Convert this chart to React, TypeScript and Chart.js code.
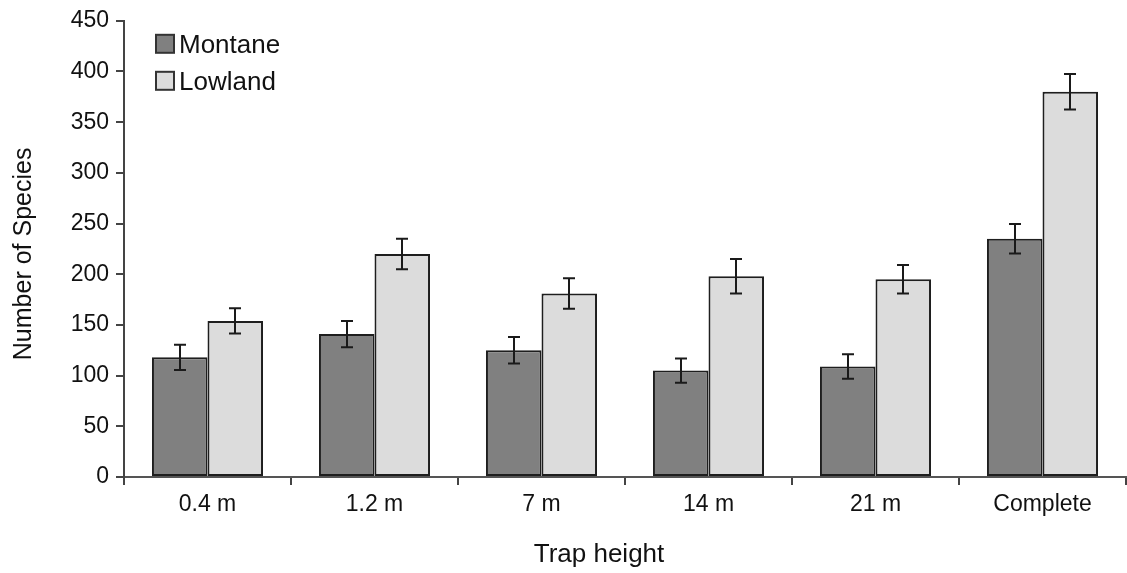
import React, { useEffect, useRef } from "react";
import { Chart, registerables } from "chart.js";

Chart.register(...registerables);

const categories = ["0.4 m", "1.2 m", "7 m", "14 m", "21 m", "Complete"];
const seriesNames = ["Montane", "Lowland"];
const montane = [118, 141, 125, 105, 109, 235];
const lowland = [154, 220, 181, 198, 195, 380];
const montaneErr = [12.5, 13, 13, 12, 12, 14.5];
const lowlandErr = [12.5, 15, 15, 17, 14, 17.5];
const yMin = 0;
const yMax = 450;
const yStep = 50;
const xTitle = "Trap height";
const yTitle = "Number of Species";

const FONT = "'Liberation Sans', Arial, sans-serif";
const fills = ["#808080", "#dcdcdc"];
const edge = "#1e1e1e";
const errors = [montaneErr, lowlandErr];

const errorBarPlugin = {
  id: "errorBars",
  afterDatasetsDraw(chart: any) {
    const ctx = chart.ctx;
    const ys = chart.scales.y;
    ctx.save();
    ctx.strokeStyle = "#1a1a1a";
    ctx.lineWidth = 2;
    chart.data.datasets.forEach((ds: any, di: number) => {
      const meta = chart.getDatasetMeta(di);
      meta.data.forEach((bar: any, i: number) => {
        const v = ds.data[i];
        const e = errors[di][i];
        const x = Math.round(bar.x);
        const yt = ys.getPixelForValue(v + e);
        const yb = ys.getPixelForValue(v - e);
        const cap = 6;
        ctx.beginPath();
        ctx.moveTo(x, yt);
        ctx.lineTo(x, yb);
        ctx.moveTo(x - cap, yt);
        ctx.lineTo(x + cap, yt);
        ctx.moveTo(x - cap, yb);
        ctx.lineTo(x + cap, yb);
        ctx.stroke();
      });
    });
    ctx.restore();
  },
};

const legendTitlesPlugin = {
  id: "legendTitles",
  afterDraw(chart: any) {
    const ctx = chart.ctx;
    const ca = chart.chartArea;
    ctx.save();
    // legend
    ctx.font = `26px ${FONT}`;
    ctx.textAlign = "left";
    ctx.textBaseline = "alphabetic";
    seriesNames.forEach((name, i) => {
      const bx = ca.left + 32;
      const by = ca.top + 14 + i * 37;
      ctx.fillStyle = fills[i];
      ctx.fillRect(bx, by, 18, 18);
      ctx.strokeStyle = "#333";
      ctx.lineWidth = 2;
      ctx.strokeRect(bx, by, 18, 18);
      ctx.fillStyle = "#111";
      ctx.fillText(name, bx + 23, by + 18);
    });
    // x title
    ctx.font = `26px ${FONT}`;
    ctx.textAlign = "center";
    ctx.fillStyle = "#111";
    ctx.fillText(xTitle, (ca.left + ca.right) / 2 - 26, 562);
    // y title
    ctx.translate(31, (ca.top + ca.bottom) / 2 + 5);
    ctx.rotate(-Math.PI / 2);
    ctx.font = `25px ${FONT}`;
    ctx.textAlign = "center";
    ctx.fillText(yTitle, 0, 0);
    ctx.restore();
  },
};

export default function App() {
  const ref = useRef<HTMLCanvasElement | null>(null);
  useEffect(() => {
    if (!ref.current) return;
    const chart = new Chart(ref.current, {
      type: "bar",
      data: {
        labels: categories,
        datasets: [
          {
            label: seriesNames[0],
            data: montane,
            backgroundColor: fills[0],
            borderColor: edge,
            borderWidth: 2,
            borderSkipped: false,
          },
          {
            label: seriesNames[1],
            data: lowland,
            backgroundColor: fills[1],
            borderColor: edge,
            borderWidth: 2,
            borderSkipped: false,
          },
        ],
      },
      options: {
        responsive: false,
        animation: false,
        devicePixelRatio: 1,
        layout: { padding: { top: 20, right: 1, left: 0, bottom: 0 } },
        plugins: {
          legend: { display: false },
          tooltip: { enabled: false },
        },
        datasets: {
          bar: { categoryPercentage: 0.665, barPercentage: 1 },
        },
        scales: {
          x: {
            offset: true,
            grid: {
              offset: true,
              drawOnChartArea: false,
              drawTicks: true,
              tickLength: 8,
              color: "#444",
              lineWidth: 2,
            },
            border: { display: true, color: "#555", width: 2 },
            ticks: {
              color: "#111",
              font: { family: FONT, size: 23 },
              padding: 6,
              maxRotation: 0,
              autoSkip: false,
            },
            afterFit: (s: any) => {
              s.height = 96;
            },
          },
          y: {
            min: yMin,
            max: yMax,
            grid: {
              drawOnChartArea: false,
              drawTicks: true,
              tickLength: 8,
              color: "#444",
              lineWidth: 2,
            },
            border: { display: true, color: "#444", width: 2 },
            ticks: {
              stepSize: yStep,
              color: "#111",
              font: { family: FONT, size: 23 },
              padding: 7,
            },
            afterFit: (s: any) => {
              s.width = 124;
            },
          },
        },
      },
      plugins: [errorBarPlugin, legendTitlesPlugin],
    });
    return () => chart.destroy();
  }, []);
  return (
    <div style={{ position: "absolute", left: 0, top: 0, width: 1127, height: 573, background: "#fff" }}>
      <canvas ref={ref} width={1127} height={573} style={{ display: "block" }} />
    </div>
  );
}
